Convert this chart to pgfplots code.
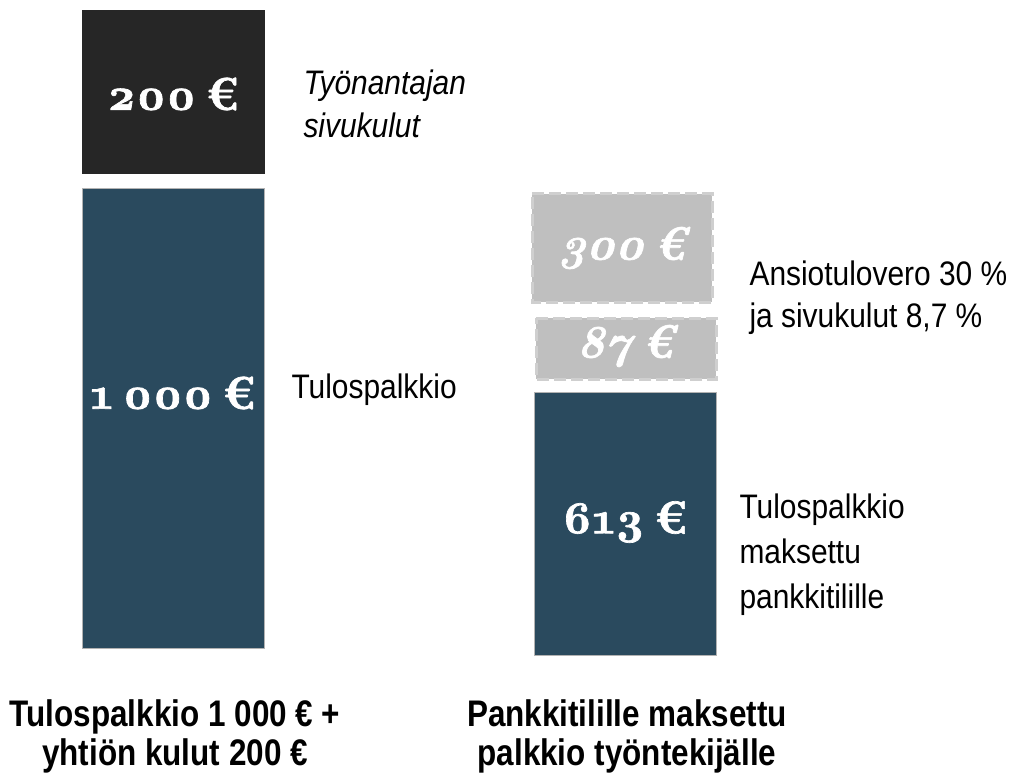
\documentclass[border=0pt]{standalone}
\usepackage{fontspec}
\usepackage{pgfplots}
\pgfplotsset{compat=1.18}
\setmainfont{Liberation Sans}[FakeStretch=0.88]
\newfontfamily\titlefont[FakeStretch=0.85]{Liberation Sans}
\newfontfamily\valfont[Numbers=OldStyle, WordSpace=0.55, FakeBold=1.5]{lmroman10-bold.otf}
\newfontfamily\valfontit[Numbers=OldStyle, WordSpace=0.55, FakeBold=1.5]{lmroman10-bolditalic.otf}
\definecolor{barblue}{HTML}{2A4A5E}
\definecolor{bardark}{HTML}{262626}
\definecolor{bargray}{HTML}{BFBFBF}
\definecolor{bordergray}{HTML}{CFCFCF}
\begin{document}
\begin{tikzpicture}
\begin{axis}[
  hide axis, scale only axis,
  width=1014pt, height=778pt,
  xmin=0, xmax=1014, ymin=0, ymax=778,
  y dir=reverse, clip=false,
]
% full canvas
\path[use as bounding box] (axis cs:0,0) rectangle (axis cs:1014,778);
% left column: 1000 EUR bonus + 200 EUR employer costs
\addplot[fill=barblue, draw=gray!60, line width=1pt] coordinates {(82,189) (264,189) (264,648) (82,648)} -- cycle;
\addplot[fill=bardark, draw=bardark] coordinates {(82,10) (264,10) (264,173) (82,173)} -- cycle;
% right column: 613 net, 87 costs, 300 tax
\addplot[fill=barblue, draw=gray!60, line width=1pt] coordinates {(534,392) (716,392) (716,655) (534,655)} -- cycle;
\addplot[fill=bargray, draw=bordergray, line width=3pt, dash pattern=on 12pt off 5pt] coordinates {(536,318) (716,318) (716,379) (536,379)} -- cycle;
\addplot[fill=bargray, draw=bordergray, line width=3pt, dash pattern=on 12pt off 5pt] coordinates {(532,194) (712,194) (712,302) (532,302)} -- cycle;

% value labels
\node[text=white, font=\valfont\fontsize{46}{48}\selectfont] at (axis cs:173,94) {200 €};
\node[text=white, font=\valfont\fontsize{46}{48}\selectfont] at (axis cs:173,393) {1 000 €};
\node[text=white, font=\valfont\fontsize{46}{48}\selectfont] at (axis cs:625,522) {613 €};
\node[text=white, font=\valfontit\fontsize{46}{48}\selectfont] at (axis cs:625,346) {87 €};
\node[text=white, font=\valfontit\fontsize{46}{48}\selectfont] at (axis cs:622,248) {300 €};

% side labels (anchor = baseline of last line)
\node[anchor=base west, font=\fontsize{34}{43}\selectfont\itshape, align=left] at (axis cs:300,138) {Työnantajan\\sivukulut};
\node[anchor=base west, font=\fontsize{34}{43}\selectfont] at (axis cs:288,398) {Tulospalkkio};
\node[anchor=base west, font=\fontsize{34}{42}\selectfont, align=left] at (axis cs:746,327) {Ansiotulovero 30 \%\\ja sivukulut 8,7 \%};
\node[anchor=base west, font=\fontsize{34}{45}\selectfont, align=left] at (axis cs:736,608) {Tulospalkkio\\maksettu\\pankkitilille};

% column titles
\node[anchor=base, font=\titlefont\fontsize{37}{39}\selectfont\bfseries, align=center] at (axis cs:175,765) {Tulospalkkio 1 000 € +\\yhtiön kulut 200 €};
\node[anchor=base, font=\titlefont\fontsize{37}{39}\selectfont\bfseries, align=center] at (axis cs:627,765) {Pankkitilille maksettu\\palkkio työntekijälle};
\end{axis}
\end{tikzpicture}
\end{document}
